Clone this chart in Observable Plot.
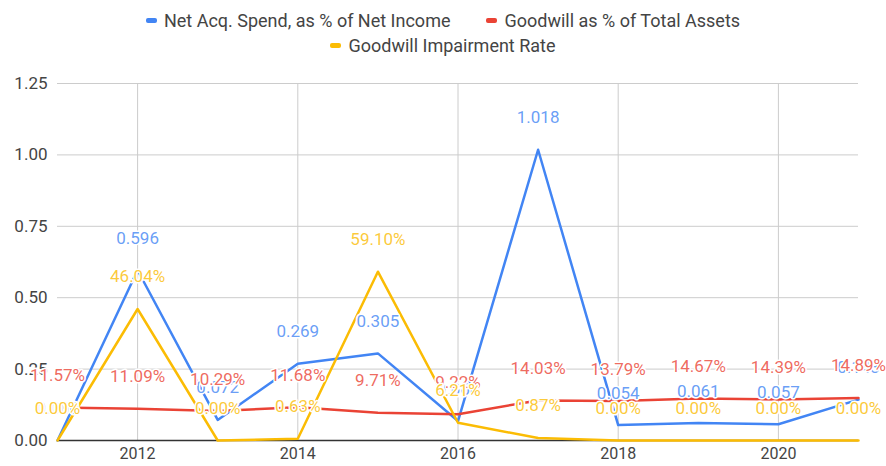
<!DOCTYPE html>
<html>
<head>
<meta charset="utf-8">
<script src="https://cdn.jsdelivr.net/npm/d3@7"></script>
<script src="https://cdn.jsdelivr.net/npm/@observablehq/plot@0.6"></script>
<style>
  body { margin: 0; background: #fff; font-family: Roboto, "Liberation Sans", Arial, sans-serif; }
  #legend { height: 60px; width: 886px; color: #444; font-size: 18px; }
  .row { display: flex; justify-content: center; align-items: center; height: 25px; }
  .row1 { padding-top: 8px; }
  .item { display: flex; align-items: center; margin: 0 18px; }
  .sw { width: 11px; height: 5px; border-radius: 2px; margin-right: 7px; }
</style>
</head>
<body>
<div id="legend"></div>
<div id="chart"></div>
<script>
const years = [2011, 2012, 2013, 2014, 2015, 2016, 2017, 2018, 2019, 2020, 2021];
const netAcqSpend = [0.000, 0.596, 0.072, 0.269, 0.305, 0.068, 1.018, 0.054, 0.061, 0.057, 0.143];
const goodwillPctAssets = [0.1157, 0.1109, 0.1029, 0.1168, 0.0971, 0.0922, 0.1403, 0.1379, 0.1467, 0.1439, 0.1489];
const impairmentRate = [0.0000, 0.4604, 0.0000, 0.0063, 0.5910, 0.0621, 0.0087, 0.0000, 0.0000, 0.0000, 0.0000];
const seriesNames = ["Net Acq. Spend, as % of Net Income", "Goodwill as % of Total Assets", "Goodwill Impairment Rate"];
const seriesColors = ["#4285f4", "#ea4335", "#fbbc04"];
const yTicks = [0, 0.25, 0.5, 0.75, 1.0, 1.25];
const xTicks = [2012, 2014, 2016, 2018, 2020];

const seriesValues = [netAcqSpend, goodwillPctAssets, impairmentRate];
const seriesFormats = [d3.format(".3f"), d3.format(".2%"), d3.format(".2%")];
const data = seriesValues.map((vals, s) => years.map((yr, i) => ({
  year: yr, value: vals[i], series: seriesNames[s], label: seriesFormats[s](vals[i])
})));

// legend
const legend = document.getElementById("legend");
const rows = [[0, 1], [2]];
rows.forEach((r, ri) => {
  const row = document.createElement("div");
  row.className = "row" + (ri === 0 ? " row1" : "");
  r.forEach(s => {
    const it = document.createElement("div");
    it.className = "item";
    const sw = document.createElement("span");
    sw.className = "sw";
    sw.style.background = seriesColors[s];
    const tx = document.createElement("span");
    tx.textContent = seriesNames[s];
    it.appendChild(sw); it.appendChild(tx);
    row.appendChild(it);
  });
  legend.appendChild(row);
});

const lineMarks = data.map((d, s) => Plot.line(d, {x: "year", y: "value", stroke: seriesColors[s], strokeWidth: 2.5}));
const labelMarks = data.map((d, s) => Plot.text(d, {
  x: "year", y: "value", text: "label", dy: -32, fill: seriesColors[s], fillOpacity: 0.8,
  stroke: "white", strokeWidth: 3, fontSize: 17
}));

const chart = Plot.plot({
  width: 886,
  height: 406,
  marginTop: 23,
  marginBottom: 26,
  marginLeft: 57,
  marginRight: 28,
  style: {fontFamily: "Roboto, 'Liberation Sans', Arial, sans-serif", fontSize: "17px", background: "white"},
  x: {domain: [2011, 2021], ticks: xTicks, tickFormat: "d", label: null},
  y: {domain: [0, 1.25], ticks: yTicks, tickFormat: ".2f", label: null},
  marks: [
    Plot.gridY(yTicks, {stroke: "#ccc", strokeOpacity: 1}),
    Plot.gridX(xTicks, {stroke: "#ccc", strokeOpacity: 1}),
    Plot.axisY(yTicks, {tickSize: 0, tickPadding: 10, fill: "#444", fontSize: 17, tickFormat: ".2f", label: null}),
    Plot.axisX(xTicks, {tickSize: 0, tickPadding: 7, fill: "#444", fontSize: 16, tickFormat: "d", label: null}),
    Plot.ruleY([0], {stroke: "#333", strokeWidth: 1.5}),
    ...lineMarks,
    ...labelMarks
  ]
});
document.getElementById("chart").appendChild(chart);
</script>
</body>
</html>
